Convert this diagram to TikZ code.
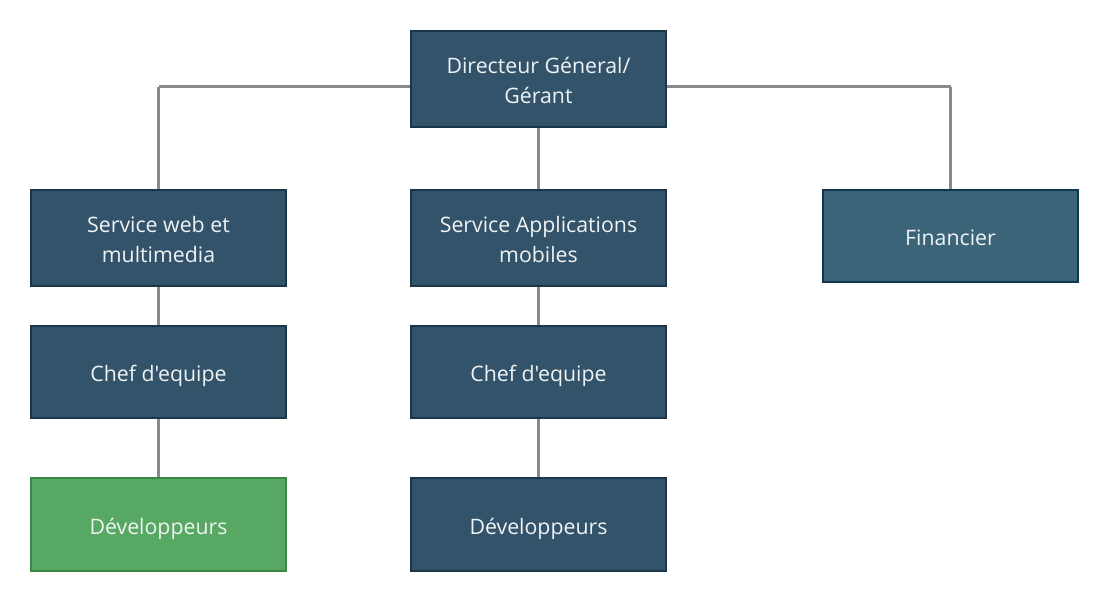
\documentclass[tikz,border=0pt]{standalone}
\usepackage{fontspec}
\newfontfamily\osans{Open Sans}
\definecolor{boxfill}{HTML}{33536A}
\definecolor{boxline}{HTML}{1B3549}
\definecolor{finfill}{HTML}{3B6479}
\definecolor{finline}{HTML}{0F3552}
\definecolor{greenfill}{HTML}{57A862}
\definecolor{greenline}{HTML}{3C8646}
\definecolor{linkgray}{HTML}{8A8A8A}
\definecolor{txt}{HTML}{EEF3F4}
\tikzset{
  orgbox/.style={draw=boxline, fill=boxfill, line width=2.5pt, minimum width=255pt, minimum height=96pt,
    text=txt, align=center, font=\osans\fontsize{21.3}{30}\selectfont, inner sep=0pt,
    text height=20pt, text depth=0.6pt},
  twoline/.style={text height=50pt, text depth=0.6pt},
  finbox/.style={orgbox, draw=finline, fill=finfill, minimum height=92pt},
  greenbox/.style={orgbox, draw=greenline, fill=greenfill, minimum height=93pt},
  link/.style={draw=linkgray, line width=3pt}
}
\begin{document}
\begin{tikzpicture}[x=1pt,y=-1pt]
\useasboundingbox (0,0) rectangle (1109,602);
\fill[white] (0,0) rectangle (1109,602);
\draw[link] (158.5,87) coordinate (lk) -- (538.5,87) -- (950.5,87) coordinate (rk);
\node[orgbox, twoline] (dg) at (538.5,79) {Directeur Géneral/\\Gérant};
\node[orgbox, twoline] (sw) at (158.5,238) {Service web et\\multimedia};
\node[orgbox, twoline] (sa) at (538.5,238) {Service Applications\\mobiles};
\node[finbox] (fin) at (950.5,236) {Financier};
\node[orgbox, minimum height=92pt] (c1) at (158.5,372) {Chef d'equipe};
\node[orgbox, minimum height=92pt] (c2) at (538.5,372) {Chef d'equipe};
\node[greenbox] (d1) at (158.5,524.5) {Développeurs};
\node[orgbox, minimum height=93pt] (d2) at (538.5,524.5) {Développeurs};
\draw[link] (lk) -- (sw.north);
\draw[link] (rk) -- (fin.north);
\draw[link] (dg.south) -- (sa.north);
\draw[link] (sw.south) -- (c1.north);
\draw[link] (c1.south) -- (d1.north);
\draw[link] (sa.south) -- (c2.north);
\draw[link] (c2.south) -- (d2.north);
\end{tikzpicture}
\end{document}
